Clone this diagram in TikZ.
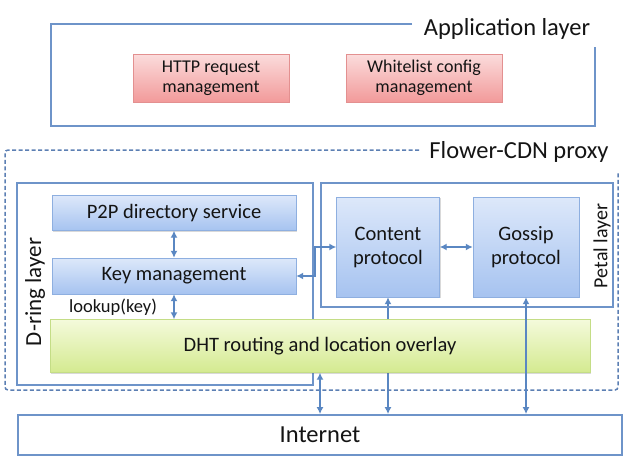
\documentclass[tikz,border=0pt]{standalone}
\usepackage{fontspec}
\setmainfont{Carlito}
\usetikzlibrary{arrows.meta, positioning, shadows, backgrounds}
\definecolor{lineblue}{HTML}{6E94C9}
\definecolor{dashblue}{HTML}{5C7FB3}
\definecolor{arrblue}{HTML}{5A87C2}
\definecolor{txtdark}{HTML}{141414}
\definecolor{pinktop}{HTML}{FBDCDC}
\definecolor{pinkbot}{HTML}{F29A9A}
\definecolor{pinkline}{HTML}{E39090}
\definecolor{bluetop}{HTML}{DDE8FA}
\definecolor{bluebot}{HTML}{A6C3F0}
\definecolor{blueline}{HTML}{8EAFE0}
\definecolor{greentop}{HTML}{F4FADB}
\definecolor{greenbot}{HTML}{D4EA90}
\definecolor{greenline}{HTML}{C4DD86}
\tikzset{
  boxshadow/.style={drop shadow={shadow xshift=1.2pt, shadow yshift=-1.2pt,
                    opacity=0.25, fill=black!60}},
  pinkbox/.style={draw=pinkline, top color=pinktop, bottom color=pinkbot, boxshadow,
                  inner sep=0pt, align=center, text=txtdark,
                  font=\fontsize{18}{20}\selectfont},
  bluebox/.style={draw=blueline, top color=bluetop, bottom color=bluebot, boxshadow,
                  inner sep=0pt, align=center, text=txtdark,
                  font=\fontsize{20.5}{24}\selectfont},
  greenbox/.style={draw=greenline, top color=greentop, bottom color=greenbot, boxshadow,
                   inner sep=0pt, align=center, text=txtdark,
                   font=\fontsize{20.5}{24}\selectfont},
  netbox/.style={draw=lineblue, line width=1.8pt, fill=white, inner sep=0pt,
                 text=txtdark, font=\fontsize{24.5}{28}\selectfont},
  frame/.style={draw=lineblue, line width=1.8pt},
  proxyframe/.style={draw=dashblue, line width=1.5pt, dash pattern=on 4pt off 2.5pt,
                     rounded corners=3pt},
  title/.style={text=txtdark, inner sep=0pt, font=\fontsize{24.5}{28}\selectfont},
  sidelbl/.style={text=txtdark, inner sep=0pt, rotate=90},
  arr/.style={{Latex[length=7pt,width=7pt]}-{Latex[length=7pt,width=7pt]},
              line width=2.2pt, arrblue},
}

\begin{document}
\begin{tikzpicture}[x=1pt, y=-1pt]
  \useasboundingbox (0,0) rectangle (639,458);

  % application layer
  \node[title] (apptitle) at (507,29) {Application layer};
  \draw[frame] (412,24) -- (51,24) -- (51,126) -- (595,126) -- (595,47);
  \node[pinkbox, minimum width=156pt, minimum height=48pt] (http) at (211,78)
    {HTTP request\\management};
  \node[pinkbox, minimum width=156pt, minimum height=48pt] (white) at (424,78)
    {Whitelist config\\management};

  % proxy
  \node[title] (proxytitle) at (519,152) {Flower-CDN proxy};
  \draw[proxyframe] (419,150) -- (5,150) -- (5,390) -- (618,390) -- (618,172);

  \draw[frame, line width=1.6pt] (17,183) rectangle (313,385);
  \draw[frame, line width=1.6pt] (321,183) rectangle (613,307);
  \node[sidelbl, font=\fontsize{23}{26}\selectfont] (dringlbl) at (35,292) {D-ring layer};
  \node[sidelbl, font=\fontsize{20}{24}\selectfont] (petallbl) at (602,246) {Petal layer};

  \node[bluebox, minimum width=244pt, minimum height=35pt] (p2p) at (174,213)
    {P2P directory service};
  \node[bluebox, minimum width=244pt, minimum height=36pt] (key) at (174,276)
    {Key management};
  \node[bluebox, minimum width=103pt, minimum height=100pt] (content) at (388,247)
    {Content\\protocol};
  \node[bluebox, minimum width=106pt, minimum height=100pt] (gossip) at (526,247)
    {Gossip\\protocol};
  \node[netbox, minimum width=604pt, minimum height=40pt] (net) at (320,435) {Internet};
  \node[greenbox, minimum width=540pt, minimum height=53pt] (dht) at (320,346)
    {DHT routing and location overlay};
  \node[text=txtdark, inner sep=0pt, font=\fontsize{18.5}{22}\selectfont] (lookup)
    at (113,307) {lookup(key)};

  % connectors
  \begin{scope}[on background layer]
    \draw[arr] (content.south) -- (content.south |- net.north);
  \end{scope}
  \draw[arr] (p2p.south) -- (key.north);
  \draw[arr] (key.south) -- (key.south |- dht.north);
  \draw[arr] (key.east) -- ++(19,0) |- (content.west);
  \draw[arr] (content.east) -- (gossip.west);
  \draw[arr] (gossip.south) -- (gossip.south |- net.north);
  \draw[arr] (dht.south) -- (net.north);
\end{tikzpicture}
\end{document}
